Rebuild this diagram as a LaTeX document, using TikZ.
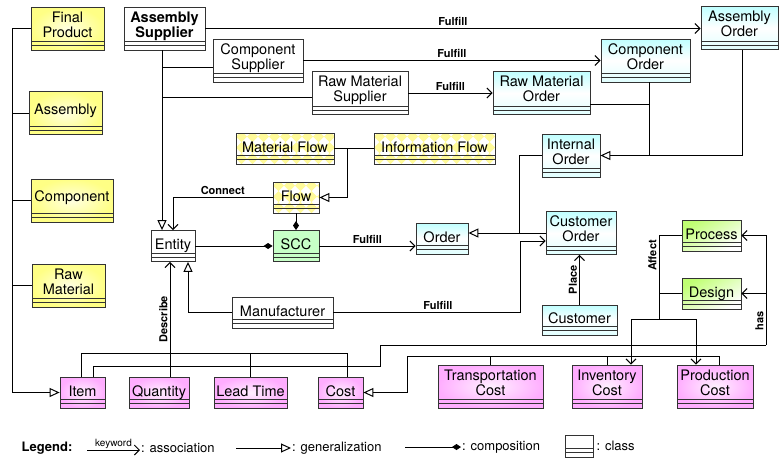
\documentclass[tikz,border=0pt]{standalone}
\usepackage{fontspec}
\setmainfont{TeX Gyre Heros}
\usepackage{tikz}
\usepackage{xcolor}
\usetikzlibrary{arrows.meta}
\usetikzlibrary{calc}

\newcommand{\clsfont}{\fontsize{14.5}{15}\selectfont}
\newcommand{\lblfont}{\fontsize{11}{12}\selectfont\bfseries}
\newcommand{\legfont}{\fontsize{13}{14}\selectfont}
% the two empty compartments at the bottom of a class box
\newcommand{\cmpt}{\draw[line width=0.8pt]
  ([yshift=8.5pt]path picture bounding box.south west) -- ([yshift=8.5pt]path picture bounding box.south east)
  ([yshift=4.5pt]path picture bounding box.south west) -- ([yshift=4.5pt]path picture bounding box.south east);}
% yellow diamond pattern of the flow classes
\newcommand{\argyle}{\foreach \i in {0,...,11}{\foreach \j in {0,...,3}{
  \fill[yellow!40] ([shift={(\i*11pt,\j*11pt-5.5pt)}]path picture bounding box.south west)
    -- ++(5.5pt,5.5pt) -- ++(5.5pt,-5.5pt) -- ++(-5.5pt,-5.5pt) -- cycle;}}}

\tikzstyle{cls} = [rectangle, draw=black!80, line width=0.8pt, align=center, font=\clsfont,
                   inner xsep=2pt, inner ysep=0pt, minimum height=31pt, text depth=3.5pt,
                   path picture={\cmpt}]
\tikzstyle{cls2} = [cls, minimum height=43pt, text depth=8pt]
\tikzstyle{plain} = [fill=white]
\tikzstyle{yel} = [inner color=yellow!12, outer color=yellow!48]
\tikzstyle{cyn} = [top color=cyan!25, bottom color=cyan!12, middle color=white]
\tikzstyle{pnk} = [inner color=magenta!6, outer color=magenta!32]
\tikzstyle{grn} = [top color=green!45!yellow!55, bottom color=white, shading angle=30]
\tikzstyle{flw} = [fill=white, path picture={\argyle\cmpt}]
\tikzstyle{link} = [line width=1pt]
\tikzstyle{assoc} = [link, -{Straight Barb[length=5pt,width=10pt]}]
\tikzstyle{gen} = [link, -{Triangle[open,length=10pt,width=9pt,fill=white]}]
\tikzstyle{comp} = [link, -{Diamond[length=9pt,width=6pt]}]
\tikzstyle{lbl} = [font=\lblfont, inner sep=2pt]

\begin{document}
\begin{tikzpicture}[x=1pt, y=-1pt]
    \useasboundingbox (0,0) rectangle (779,464);
    % products
    \node[cls2, yel, minimum width=73pt] (finalp) at (67.5,28.5) {Final\\Product};
    \node[cls2, yel, minimum width=73pt] (assembly) at (65.5,113) {Assembly};
    \node[cls2, yel, minimum width=82pt] (component) at (72,200.5) {Component};
    \node[cls2, yel, minimum width=73pt] (rawmat) at (68.5,285.5) {Raw\\Material};
    % suppliers and orders
    \node[cls2, plain, minimum width=81pt, font=\clsfont\bfseries] (asmsup) at (164.5,28.5) {Assembly\\Supplier};
    \node[cls2, plain, minimum width=90pt] (compsup) at (258,60.5) {Component\\Supplier};
    \node[cls2, plain, minimum width=96pt] (rawsup) at (360,93) {Raw Material\\Supplier};
    \node[cls2, cyn, minimum width=77pt] (asmord) at (739.5,28) {Assembly\\Order};
    \node[cls2, cyn, minimum width=89pt] (compord) at (645.5,60.5) {Component\\Order};
    \node[cls2, cyn, minimum width=97pt] (raword) at (541.5,93) {Raw Material\\Order};
    \node[cls2, cyn, minimum width=58pt] (intord) at (571,155.5) {Internal\\Order};
    % flows
    \node[cls, flw, minimum width=98pt] (matflow) at (285,148.5) {Material Flow};
    \node[cls, flw, minimum width=121pt] (infoflow) at (434.5,148.5) {Information Flow};
    \node[cls, flw, minimum width=46pt] (flow) at (296,197.5) {Flow};
    % core
    \node[cls, plain, minimum width=44pt] (entity) at (173,246) {Entity};
    \node[cls, fill=green!22, minimum width=46pt] (scc) at (296,246) {SCC};
    \node[cls, cyn, minimum width=52pt] (order) at (442,238.5) {Order};
    \node[cls2, cyn, minimum width=70pt] (custord) at (581,233) {Customer\\Order};
    \node[cls, grn, minimum width=59pt] (process) at (711.5,235.5) {Process};
    \node[cls, grn, minimum width=59pt] (design) at (711.5,293.5) {Design};
    \node[cls, plain, minimum width=101pt] (manuf) at (282.5,312.5) {Manufacturer};
    \node[cls, cyn, minimum width=75pt, minimum height=30pt] (customer) at (579.5,320) {Customer};
    % measures
    \node[cls, pnk, minimum width=45pt] (item) at (82.5,392.5) {Item};
    \node[cls, pnk, minimum width=60pt] (quantity) at (159,392.5) {Quantity};
    \node[cls, pnk, minimum width=73pt] (leadtime) at (250.5,392.5) {Lead Time};
    \node[cls, pnk, minimum width=45pt] (cost) at (340.5,392.5) {Cost};
    \node[cls2, pnk, minimum width=105pt] (transcost) at (490.5,386.5) {Transportation\\Cost};
    \node[cls2, pnk, minimum width=70pt] (invcost) at (607,386.5) {Inventory\\Cost};
    \node[cls2, pnk, minimum width=76pt] (prodcost) at (715,386.5) {Production\\Cost};

    \coordinate (lbus) at (12,0);
    \coordinate (sbus) at (162,0);
    \coordinate (ibus) at (649,155.5);
    \coordinate (fjoin) at (347,148.5);
    \coordinate (ojoin) at (519,233);
    \coordinate (mjoin) at (520,241);
    \coordinate (djoin) at (170,353.5);
    \coordinate (hbend) at (380,366.5);
    \coordinate (hjoin) at (766,345);
    \coordinate (cbus) at (407,356.5);
    \coordinate (ajoin) at (659,319);

    % products are items
    \draw[gen] (finalp.west) -- (finalp.west -| lbus) |- (item.west);
    \draw[link] (assembly.west) -- (assembly.west -| lbus);
    \draw[link] (component.west) -- (component.west -| lbus);
    \draw[link] (rawmat.west) -- (rawmat.west -| lbus);
    % suppliers are entities
    \draw[gen] (asmsup.south -| sbus) -- (entity.north -| sbus);
    \draw[link] ([yshift=-6.5pt]compsup.west) -- ([yshift=-6.5pt]compsup.west -| sbus);
    \draw[link] ([yshift=-4pt]rawsup.west) -- ([yshift=-4pt]rawsup.west -| sbus);
    \draw[assoc] (asmsup.east) -- (asmsup.east -| asmord.west) node[lbl, midway, above] {Fulfill};
    \draw[assoc] (compsup.east) -- (compsup.east -| compord.west) node[lbl, midway, above] {Fulfill};
    \draw[assoc] (rawsup.east) -- (rawsup.east -| raword.west) node[lbl, midway, above] {Fulfill};
    % order hierarchy
    \draw[gen] ([xshift=2.5pt]asmord.south) |- (intord.east);
    \draw[link] (compord.south -| ibus) -- (ibus);
    \draw[link] ([yshift=-11pt]raword.east) -| (ibus);
    \draw[link] (intord.west) -| (ojoin);
    \draw[gen] (custord.west |- ojoin) -- (order.east |- ojoin);
    \draw[assoc] (manuf.east) -| (mjoin) node[lbl, pos=0.28, above] {Fulfill} -- (mjoin -| custord.west);
    \draw[gen] (manuf.west) -| ([xshift=15pt]entity.south);
    % flows
    \draw[assoc] (flow.west) -| (entity.north) node[lbl, pos=0.25, above] {Connect};
    \draw[comp] (entity.east) -- (scc.west);
    \draw[comp] (flow.south) -- (scc.north);
    \draw[link] (matflow.east) -- (infoflow.west);
    \draw[gen] (fjoin) |- (flow.east);
    \draw[assoc] (scc.east) -- (scc.east -| order.west) node[lbl, midway, above] {Fulfill};
    \draw[assoc] (customer.north) -- (customer.north |- custord.south) node[lbl, midway, sloped, above] {Place};
    % measures
    \draw[assoc] (quantity.north -| djoin) -- (djoin |- entity.south) node[lbl, midway, sloped, above] {Describe};
    \draw[link] ([xshift=-1.5pt]item.north) |- (djoin) -| ([xshift=6.5pt]cost.north);
    \draw[link] (leadtime.north) -- (leadtime.north |- djoin);
    \draw[link] ([xshift=10.5pt]item.north) |- (hbend) |- (hjoin);
    \draw[assoc] (hjoin) |- (process.east) node[lbl, pos=0.11, sloped, above] {has};
    \draw[assoc] (hjoin |- design.east) -- (design.east);
    \draw[gen] ([xshift=4pt]prodcost.north) |- (cbus) |- (cost.east);
    \draw[link] (transcost.north) -- (transcost.north |- cbus);
    \draw[link] (invcost.north) -- (invcost.north |- cbus);
    \draw[link] (ajoin) |- (process.west) node[lbl, pos=0.38, sloped, above] {Affect};
    \draw[link] (design.west) -- (design.west -| ajoin);
    \draw[assoc] (ajoin) -| ([xshift=24pt]invcost.north);
    \draw[assoc] (ajoin) -| ([xshift=-19pt]prodcost.north);

    % legend
    \node[font=\legfont\bfseries] (legend) at (47,448) {Legend:};
    \coordinate (la1) at (87,450);
    \node[font=\legfont, anchor=west, inner sep=1pt] (lassoc) at (140,448) {: association};
    \draw[assoc] (la1) -- (la1 -| lassoc.west) node[midway, above, font=\fontsize{10}{11}\selectfont, inner sep=1pt] {keyword};
    \coordinate (lg1) at (236,448);
    \node[font=\legfont, anchor=west, inner sep=1pt] (lgen) at (291,448) {: generalization};
    \draw[gen] (lg1) -- (lgen.west);
    \coordinate (lc1) at (405,447);
    \node[font=\legfont, anchor=west, inner sep=1pt] (lcomp) at (461,447) {: composition};
    \draw[comp] (lc1) -- (lcomp.west);
    \node[cls, plain, minimum width=28pt, minimum height=22pt] (lcls) at (579,446) {};
    \node[font=\legfont, anchor=west, inner sep=3pt] (lclass) at (lcls.east) {: class};
\end{tikzpicture}
\end{document}
